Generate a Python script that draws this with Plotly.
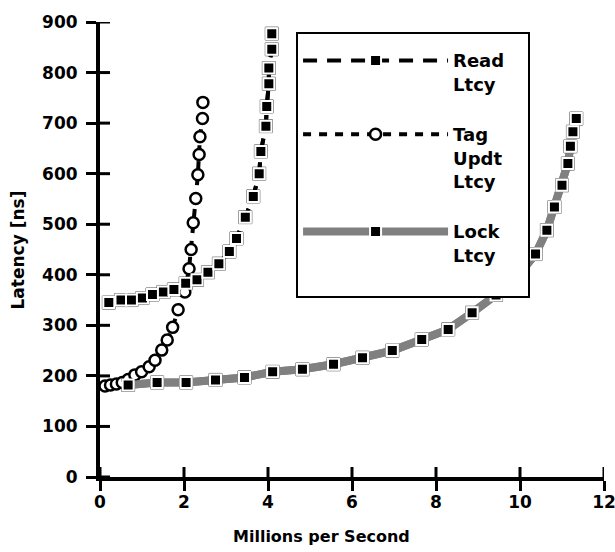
import plotly.graph_objects as go

# ---- data ----
read_x = [0.21, 0.50, 0.75, 1.01, 1.25, 1.51, 1.76, 2.04, 2.31, 2.57, 2.83, 3.08, 3.25, 3.46, 3.65, 3.79, 3.83, 3.95, 3.97, 4.02, 4.02, 4.09, 4.09]
read_y = [345, 350, 350, 354, 361, 366, 371, 383, 390, 405, 422, 446, 472, 514, 555, 600, 644, 694, 733, 778, 809, 846, 877]

tag_x = [0.12, 0.25, 0.39, 0.53, 0.67, 0.83, 0.99, 1.17, 1.31, 1.47, 1.60, 1.73, 1.86, 2.02, 2.12, 2.17, 2.22, 2.28, 2.33, 2.36, 2.38, 2.44, 2.45]
tag_y = [180, 182, 184, 187, 193, 202, 208, 218, 231, 251, 271, 296, 331, 366, 412, 450, 503, 551, 598, 638, 673, 709, 741]

lock_x = [0.67, 1.36, 2.05, 2.75, 3.44, 4.11, 4.82, 5.56, 6.25, 6.96, 7.66, 8.29, 8.86, 9.43, 9.95, 10.37, 10.64, 10.82, 11.00, 11.14, 11.20, 11.26, 11.34]
lock_y = [182, 187, 187, 192, 197, 208, 213, 223, 236, 250, 272, 292, 325, 360, 398, 441, 488, 534, 577, 620, 654, 683, 709]

x_ticks = [0, 2, 4, 6, 8, 10, 12]
y_ticks = [0, 100, 200, 300, 400, 500, 600, 700, 800, 900]

FONT = "DejaVu Sans, Liberation Sans, Arial, sans-serif"
NB = "&nbsp;"

fig = go.Figure()

def boxed_square_underlay(x, y, group):
    fig.add_trace(go.Scatter(
        x=x, y=y, mode="markers", showlegend=False, legendgroup=group,
        hoverinfo="skip",
        marker=dict(symbol="square", size=13, color="white",
                    line=dict(color="#555555", width=1)),
    ))

# Lock Ltcy (gray thick line)
fig.add_trace(go.Scatter(
    x=lock_x, y=lock_y, mode="lines", showlegend=False, legendgroup="lock",
    line=dict(color="#808080", width=8), hoverinfo="skip"))
boxed_square_underlay(lock_x, lock_y, "lock")

# Read Ltcy (black dashed line)
fig.add_trace(go.Scatter(
    x=read_x, y=read_y, mode="lines", showlegend=False, legendgroup="read",
    line=dict(color="black", width=4, dash="14px,10px"), hoverinfo="skip"))
boxed_square_underlay(read_x, read_y, "read")

# Tag Updt Ltcy
fig.add_trace(go.Scatter(
    x=tag_x, y=tag_y, mode="lines+markers", name="<b>Tag<br>Updt<br>Ltcy</b>",
    legendgroup="tag", legendrank=2,
    line=dict(color="black", width=4, dash="8px,8px"),
    marker=dict(symbol="circle", size=11, color="white",
                line=dict(color="black", width=2.5))))

# legend-bearing traces with markers on top
fig.add_trace(go.Scatter(
    x=read_x, y=read_y, mode="lines+markers", name="<b>Read" + NB * 3 + "<br>Ltcy</b>",
    legendgroup="read", legendrank=1,
    line=dict(color="black", width=4, dash="14px,10px"),
    marker=dict(symbol="square", size=11, color="black",
                line=dict(color="white", width=2))))
fig.add_trace(go.Scatter(
    x=lock_x, y=lock_y, mode="lines+markers", name="<b>Lock<br>Ltcy<br>" + NB + "</b>",
    legendgroup="lock", legendrank=3,
    line=dict(color="#808080", width=8),
    marker=dict(symbol="square", size=11, color="black",
                line=dict(color="white", width=2))))

axis_common = dict(showgrid=False, zeroline=False, showline=True, automargin=False,
                   linecolor="black", linewidth=4, ticks="outside",
                   ticklen=10, tickwidth=3, tickcolor="black",
                   ticklabeloverflow="allow",
                   tickfont=dict(family=FONT, size=17, color="black", weight="bold"))

# inner halves of the crossing tick marks
shapes = []
for xv in x_ticks:
    shapes.append(dict(type="line", xref="x", yref="y", ysizemode="pixel", yanchor=0,
                       x0=xv, x1=xv, y0=0, y1=10, line=dict(color="black", width=3)))
for yv in y_ticks:
    shapes.append(dict(type="line", xref="x", yref="y", xsizemode="pixel", xanchor=0,
                       y0=yv, y1=yv, x0=0, x1=10, line=dict(color="black", width=3)))

fig.update_layout(
    width=615, height=552,
    margin=dict(l=100, r=11, t=22, b=75),
    paper_bgcolor="white", plot_bgcolor="white",
    font=dict(family=FONT, color="black"),
    xaxis=dict(range=[0, 12], tickvals=x_ticks, ticklabelstandoff=-3, **axis_common),
    yaxis=dict(range=[0, 900], tickvals=y_ticks, ticklabelstandoff=5, **axis_common),
    shapes=shapes,
    legend=dict(x=0.389, y=0.977, xanchor="left", yanchor="top",
                bgcolor="white", bordercolor="black", borderwidth=2,
                itemwidth=145, valign="top", tracegroupgap=24,
                title=dict(text=NB, font=dict(size=6)),
                font=dict(family=FONT, size=18, color="black")),
    annotations=[
        dict(text="<b>Millions per Second</b>", x=0.44, y=-0.13, xref="paper", yref="paper",
             xanchor="center", yanchor="middle", showarrow=False,
             font=dict(family=FONT, size=16, color="black")),
        dict(text="<b>Latency [ns]</b>", x=-0.1627, y=0.5, xref="paper", yref="paper",
             xanchor="center", yanchor="middle", textangle=-90, showarrow=False,
             font=dict(family=FONT, size=17, color="black")),
    ],
)

# remove the page's default body margin so the figure fills the window exactly
fig.write_html("out.html", config={"displayModeBar": False},
               post_script="document.body.style.margin='0';document.body.style.overflow='hidden';")
